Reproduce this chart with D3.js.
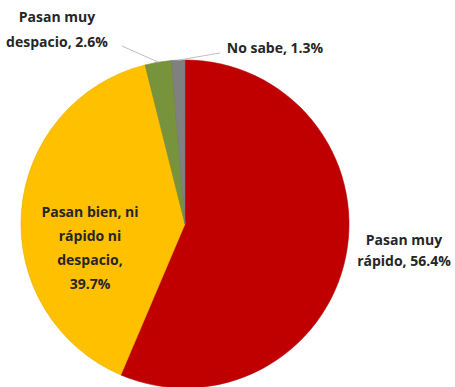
<!DOCTYPE html>
<html>
<head>
<meta charset="utf-8">
<script src="https://cdn.jsdelivr.net/npm/d3@7"></script>
<style>
  html, body { margin: 0; padding: 0; background: #fff; }
  svg text { font-family: "Open Sans", "DejaVu Sans", sans-serif; font-weight: 700; fill: #262626; }
</style>
</head>
<body>
<svg id="chart" width="455" height="387"></svg>
<script>
// Survey answers: how fast time goes by
const categories = ["Pasan muy rápido", "Pasan bien, ni rápido ni despacio", "Pasan muy despacio", "No sabe"];
const values = [56.4, 39.7, 2.6, 1.3];
const colors = ["#C00000", "#FFC000", "#77933C", "#808080"];
// Label text lines for each slice
const labelLines = [
  ["Pasan muy", "rápido, 56.4%"],
  ["Pasan bien, ni", "rápido ni", "despacio,", "39.7%"],
  ["Pasan muy", "despacio, 2.6%"],
  ["No sabe, 1.3%"]
];

const svg = d3.select("#chart");
const cx = 185, cy = 224, r = 164;
const g = svg.append("g").attr("transform", `translate(${cx},${cy})`);

const pie = d3.pie().sort(null).value(d => d)(values);
const arc = d3.arc().innerRadius(0).outerRadius(r);

g.selectAll("path.slice")
  .data(pie)
  .join("path")
  .attr("class", "slice")
  .attr("d", arc)
  .attr("fill", (d, i) => colors[i])
  .attr("stroke", (d, i) => d3.color(colors[i]).darker(0.3))
  .attr("stroke-width", 0.6);

// Label positions, relative to the pie centre
const labelPos = [
  { x: 219, y: 21, lh: 21 },
  { x: -95, y: -7, lh: 24 },
  { x: -128, y: -202, lh: 25 },
  { x: 90, y: -171, lh: 20 }
];

labelLines.forEach((lines, i) => {
  const p = labelPos[i];
  const t = g.append("text")
    .attr("text-anchor", "middle")
    .attr("font-size", 14)
    .attr("x", p.x)
    .attr("y", p.y);
  lines.forEach((s, k) => {
    t.append("tspan").attr("x", p.x).attr("dy", k === 0 ? 0 : p.lh).text(s);
  });
});

// Leader lines for the two small slices
const outer = d3.arc().innerRadius(r).outerRadius(r);
const leaders = [
  { i: 2, from: [-63, -178] },
  { i: 3, from: [35, -171] }
];
leaders.forEach(L => {
  const c = outer.centroid(pie[L.i]);
  g.append("line")
    .attr("x1", L.from[0]).attr("y1", L.from[1])
    .attr("x2", c[0]).attr("y2", c[1])
    .attr("stroke", "#bfbfbf").attr("stroke-width", 1);
});
</script>
</body>
</html>
